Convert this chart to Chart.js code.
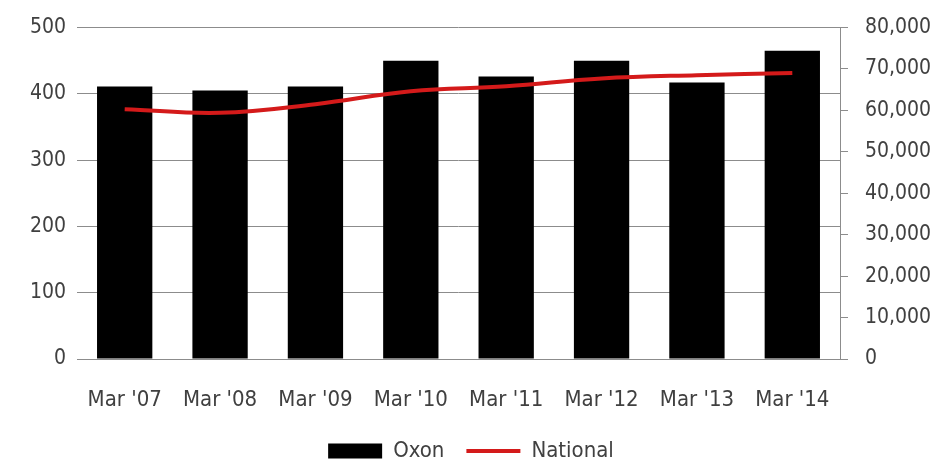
<!DOCTYPE html>
<html lang="en">
  <head>
    <meta charset="UTF-8" />
    <title>Oxon vs National</title>
    <script src="https://cdn.jsdelivr.net/npm/chart.js"></script>
    <style>
      html, body { margin: 0; padding: 0; background: #fff; }
      #wrap { width: 942px; height: 459px; }
    </style>
  </head>
  <body>
    <div id="wrap"><canvas id="chart"></canvas></div>
    <script>
      const categories = ["Mar '07", "Mar '08", "Mar '09", "Mar '10", "Mar '11", "Mar '12", "Mar '13", "Mar '14"];
      const oxon = [411, 405, 411, 450, 426, 450, 417, 465];
      const national = [60300, 59400, 61500, 64600, 65800, 67700, 68500, 69000];

      const textColor = "#404040";
      const gridColor = "#8c8c8c";
      const yFont = { family: "DejaVu Sans Condensed, DejaVu Sans", size: 21, lineHeight: 1 };
      const xFont = { family: "DejaVu Sans Condensed, DejaVu Sans", size: 22 };

      new Chart(document.getElementById("chart").getContext("2d"), {
        data: {
          labels: categories,
          datasets: [
            {
              type: "bar",
              label: "Oxon",
              data: oxon,
              backgroundColor: "#000000",
              yAxisID: "y",
              order: 2,
              barPercentage: 0.58,
              categoryPercentage: 1,
              pointStyle: "rect",
            },
            {
              type: "line",
              label: "National",
              data: national,
              borderColor: "#d41a1a",
              backgroundColor: "#d41a1a",
              borderWidth: 4,
              tension: 0.4,
              pointRadius: 0,
              fill: false,
              yAxisID: "y1",
              order: 1,
              pointStyle: "line",
            },
          ],
        },
        options: {
          responsive: true,
          maintainAspectRatio: false,
          animation: false,
          layout: { padding: { top: 14, bottom: 0 } },
          plugins: {
            tooltip: { enabled: false },
            legend: {
              position: "bottom",
              maxHeight: 41,
              labels: {
                color: textColor,
                font: xFont,
                usePointStyle: true,
                pointStyleWidth: 54,
                boxHeight: 15,
                padding: 22,
                sort: (a, b) => a.datasetIndex - b.datasetIndex,
              },
            },
          },
          scales: {
            x: {
              grid: { display: false },
              border: { display: true, color: gridColor },
              ticks: { color: textColor, font: xFont, padding: 20, maxRotation: 0 },
              afterFit: (s) => { s.height = 59; },
            },
            y: {
              position: "left",
              min: 0,
              max: 500,
              ticks: { stepSize: 100, color: textColor, font: yFont, padding: 11 },
              grid: { color: gridColor, drawTicks: false, tickLength: 0 },
              border: { display: false },
              afterFit: (s) => { s.width = 77; },
            },
            y1: {
              position: "right",
              min: 0,
              max: 80000,
              ticks: {
                stepSize: 10000,
                color: textColor,
                font: yFont,
                padding: 17,
                callback: (v) => v.toLocaleString("en-US"),
              },
              grid: { drawOnChartArea: false, color: gridColor, tickLength: 8 },
              border: { display: true, color: gridColor },
              afterFit: (s) => { s.width = 102; },
            },
          },
        },
      });
    </script>
  </body>
</html>
